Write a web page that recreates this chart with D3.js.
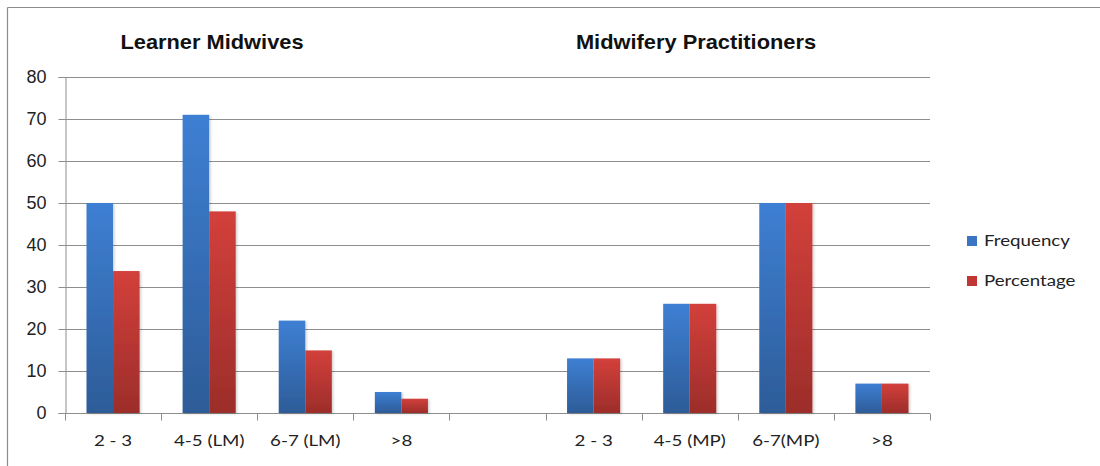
<!DOCTYPE html>
<html>
<head>
<meta charset="utf-8">
<script src="https://cdn.jsdelivr.net/npm/d3@7"></script>
<style>
  html, body { margin: 0; padding: 0; background: #fff; }
  svg { display: block; }
</style>
</head>
<body>
<svg id="chart" width="1100" height="466"></svg>
<script>
// Years of experience groups: learner midwives (LM) and midwifery practitioners (MP),
// separated by an empty slot.
const categories = ["2 - 3", "4-5 (LM)", "6-7 (LM)", ">8", "", "2 - 3", "4-5 (MP)", "6-7(MP)", ">8"];
const frequency  = [50, 71, 22, 5, null, 13, 26, 50, 7];
const percentage = [33.8, 48.0, 14.9, 3.4, null, 13, 26, 50, 7];
const seriesNames = ["Frequency", "Percentage"];
const yTicks = [0, 10, 20, 30, 40, 50, 60, 70, 80];
const groupTitles = ["Learner Midwives", "Midwifery Practitioners"];

const svg = d3.select("#chart");
const margin = { left: 65, right: 170, top: 77, bottom: 53 };
const W = 1100, H = 466;
const labelFont = "Lato, Carlito, Calibri, sans-serif";
const labelStretch = 1.17;

// Gradients for the bars
const defs = svg.append("defs");
const grads = [
  { id: "gBlue", top: "#3e7fd3", bottom: "#2d5c98" },
  { id: "gRed",  top: "#d3403b", bottom: "#9c2d2a" }
];
grads.forEach(g => {
  const lg = defs.append("linearGradient").attr("id", g.id)
    .attr("x1", 0).attr("y1", 0).attr("x2", 0).attr("y2", 1);
  lg.append("stop").attr("offset", "0%").attr("stop-color", g.top);
  lg.append("stop").attr("offset", "100%").attr("stop-color", g.bottom);
});
const shadow = defs.append("filter").attr("id", "shadow")
  .attr("x", "-20%").attr("y", "-5%").attr("width", "150%").attr("height", "115%");
shadow.append("feDropShadow").attr("dx", 1.5).attr("dy", 1).attr("stdDeviation", 1)
  .attr("flood-color", "#000").attr("flood-opacity", 0.18);

// Outer frame (top and left edges visible)
svg.append("line").attr("x1", 7.5).attr("x2", W).attr("y1", 7.5).attr("y2", 7.5)
  .attr("stroke", "#8c8c8c").attr("stroke-width", 1.2);
svg.append("line").attr("x1", 7.5).attr("x2", 7.5).attr("y1", 7.5).attr("y2", H)
  .attr("stroke", "#8c8c8c").attr("stroke-width", 1.2);

const idx = categories.map((d, i) => i);
const x0 = d3.scaleBand().domain(idx).range([margin.left, W - margin.right]).padding(0);
const x1 = d3.scaleBand().domain(seriesNames).range([0, x0.bandwidth()])
  .paddingInner(0).paddingOuter(0.81);
const y = d3.scaleLinear().domain([0, 80]).range([H - margin.bottom, margin.top]);

// Horizontal gridlines
svg.append("g").selectAll("line").data(yTicks.filter(t => t > 0)).join("line")
  .attr("x1", margin.left).attr("x2", W - margin.right)
  .attr("y1", d => Math.round(y(d)) + 0.5).attr("y2", d => Math.round(y(d)) + 0.5)
  .attr("stroke", "#8e8e8e").attr("stroke-width", 1);

// Y axis
const yAxis = svg.append("g").attr("transform", `translate(${margin.left + 0.5},0)`)
  .call(d3.axisLeft(y).tickValues(yTicks).tickSize(7).tickPadding(12).tickFormat(d3.format("d")));
yAxis.select(".domain").attr("stroke", "#8e8e8e");
yAxis.selectAll(".tick line").attr("stroke", "#8e8e8e");
yAxis.selectAll("text").attr("font-family", "Liberation Sans, Arial, sans-serif")
  .attr("font-size", 18).attr("fill", "#222");

// X axis with ticks at category boundaries
const xAxisY = Math.round(y(0)) + 0.5;
const xg = svg.append("g");
xg.append("line").attr("x1", margin.left).attr("x2", W - margin.right)
  .attr("y1", xAxisY).attr("y2", xAxisY).attr("stroke", "#8e8e8e");
const bounds = idx.map(i => x0(i)).concat([x0(idx[idx.length - 1]) + x0.bandwidth()]);
xg.selectAll("line.tk").data(bounds).join("line").attr("class", "tk")
  .attr("x1", d => Math.round(d) + 0.5).attr("x2", d => Math.round(d) + 0.5)
  .attr("y1", xAxisY).attr("y2", xAxisY + 7).attr("stroke", "#8e8e8e");
xg.selectAll("text").data(idx).join("text")
  .attr("transform", i => `translate(${x0(i) + x0.bandwidth() / 2},446) scale(${labelStretch},1)`)
  .attr("text-anchor", "middle")
  .attr("font-family", labelFont)
  .attr("font-size", 16).attr("fill", "#222")
  .text(i => categories[i]);

// Bars
const seriesData = [frequency, percentage];
const fills = ["url(#gBlue)", "url(#gRed)"];
seriesNames.forEach((name, s) => {
  svg.append("g").attr("filter", "url(#shadow)")
    .selectAll("rect").data(idx.filter(i => seriesData[s][i] != null)).join("rect")
    .attr("x", i => x0(i) + x1(name))
    .attr("width", x1.bandwidth())
    .attr("y", i => y(seriesData[s][i]))
    .attr("height", i => y(0) - y(seriesData[s][i]))
    .attr("fill", fills[s]);
});

// Group titles
const titleX = [212, 696];
groupTitles.forEach((t, k) => {
  svg.append("text")
    .attr("transform", `translate(${titleX[k]},49) scale(1.12,1)`)
    .attr("text-anchor", "middle")
    .attr("font-family", "Liberation Sans, Arial, sans-serif")
    .attr("font-weight", "bold").attr("font-size", 19.5).attr("fill", "#111")
    .text(t);
});

// Legend
const legendColors = ["#3a74c2", "#c03633"];
const lg = svg.append("g");
seriesNames.forEach((name, k) => {
  const yy = 246 + k * 40;
  lg.append("rect").attr("x", 967).attr("y", yy - 10).attr("width", 10).attr("height", 10)
    .attr("fill", legendColors[k]);
  lg.append("text").attr("transform", `translate(984,${yy}) scale(${labelStretch},1)`)
    .attr("font-family", labelFont)
    .attr("font-size", 16).attr("fill", "#222").text(name);
});
</script>
</body>
</html>
